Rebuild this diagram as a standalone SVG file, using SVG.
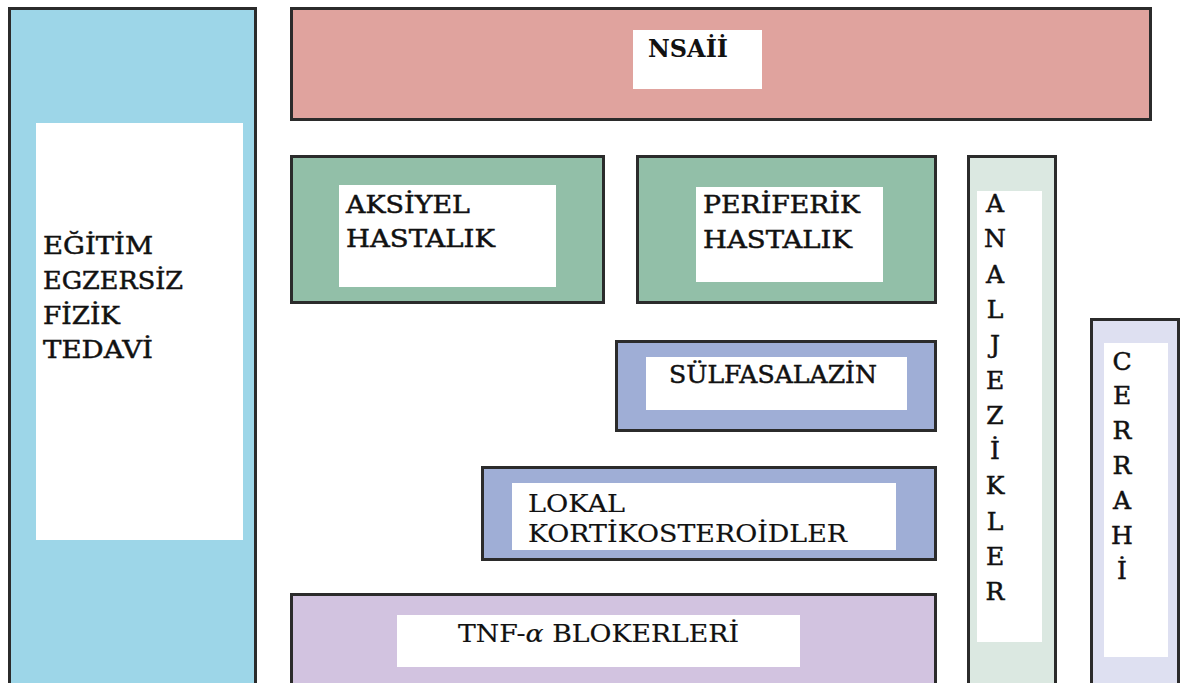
<svg xmlns="http://www.w3.org/2000/svg" width="1182" height="683" viewBox="0 0 1182 683">
<style>
.box{stroke:#2b2b2b;stroke-width:3}
.in{fill:#ffffff}
.t{font-family:"DejaVu Serif","Liberation Serif",serif;font-size:25px;fill:#111;stroke:#111;stroke-width:0.5}
.b{font-weight:bold;stroke-width:0}
.r{stroke-width:0.2}
.v{font-family:"DejaVu Serif","Liberation Serif",serif;font-size:25px;fill:#111;stroke:#111;stroke-width:0.5;text-anchor:middle}
</style>
<rect width="1182" height="683" fill="#ffffff"/>
<g id="egitim">
<rect class="box" x="9.5" y="8.5" width="246" height="690" fill="#9DD6E8"/>
<rect class="in" x="36" y="123" width="207" height="417"/>
<text class="t" x="43" y="254" textLength="110" lengthAdjust="spacingAndGlyphs">EĞİTİM</text>
<text class="t" x="43" y="289" textLength="140" lengthAdjust="spacingAndGlyphs">EGZERSİZ</text>
<text class="t" x="43" y="324" textLength="77" lengthAdjust="spacingAndGlyphs">FİZİK</text>
<text class="t" x="43" y="358" textLength="110" lengthAdjust="spacingAndGlyphs">TEDAVİ</text>
</g>
<g id="nsaii">
<rect class="box" x="291.5" y="8.5" width="859" height="111" fill="#E0A39E"/>
<rect class="in" x="633" y="30" width="129" height="59"/>
<text class="t b" x="648" y="57" textLength="80" lengthAdjust="spacingAndGlyphs">NSAİİ</text>
</g>
<g id="aksiyel">
<rect class="box" x="291.5" y="156.5" width="312" height="146" fill="#92BFA8"/>
<rect class="in" x="339" y="185" width="217" height="102"/>
<text class="t" x="346" y="213" textLength="124" lengthAdjust="spacingAndGlyphs">AKSİYEL</text>
<text class="t" x="346" y="247" textLength="149" lengthAdjust="spacingAndGlyphs">HASTALIK</text>
</g>
<g id="periferik">
<rect class="box" x="637.5" y="156.5" width="298" height="146" fill="#92BFA8"/>
<rect class="in" x="696" y="187" width="187" height="95"/>
<text class="t" x="703" y="213" textLength="157" lengthAdjust="spacingAndGlyphs">PERİFERİK</text>
<text class="t" x="703" y="248" textLength="149" lengthAdjust="spacingAndGlyphs">HASTALIK</text>
</g>
<g id="analjezikler">
<rect class="box" x="968.5" y="156.5" width="87" height="540" fill="#DBE8E1"/>
<rect class="in" x="977" y="191" width="65" height="451"/>
<text class="v" x="995" y="212">A</text>
<text class="v" x="995" y="247">N</text>
<text class="v" x="995" y="283">A</text>
<text class="v" x="995" y="318">L</text>
<text class="v" x="995" y="353">J</text>
<text class="v" x="995" y="389">E</text>
<text class="v" x="995" y="424">Z</text>
<text class="v" x="995" y="459">İ</text>
<text class="v" x="995" y="494">K</text>
<text class="v" x="995" y="530">L</text>
<text class="v" x="995" y="565">E</text>
<text class="v" x="995" y="600">R</text>
</g>
<g id="cerrahi">
<rect class="box" x="1091.5" y="319.5" width="87" height="380" fill="#DEE0F1"/>
<rect class="in" x="1104" y="343" width="64" height="314"/>
<text class="v" x="1122" y="370">C</text>
<text class="v" x="1122" y="404">E</text>
<text class="v" x="1122" y="439">R</text>
<text class="v" x="1122" y="474">R</text>
<text class="v" x="1122" y="509">A</text>
<text class="v" x="1122" y="544">H</text>
<text class="v" x="1122" y="579">İ</text>
</g>
<g id="sulfasalazin">
<rect class="box" x="616.5" y="341.5" width="319" height="89" fill="#9FAED6"/>
<rect class="in" x="646" y="357" width="261" height="53"/>
<text class="t" x="669" y="383" textLength="208" lengthAdjust="spacingAndGlyphs">SÜLFASALAZİN</text>
</g>
<g id="lokal">
<rect class="box" x="482.5" y="467.5" width="453" height="92" fill="#9FAED6"/>
<rect class="in" x="512" y="483" width="384" height="67"/>
<text class="t r" x="528" y="512" textLength="97" lengthAdjust="spacingAndGlyphs">LOKAL</text>
<text class="t r" x="528" y="542" textLength="319" lengthAdjust="spacingAndGlyphs">KORTİKOSTEROİDLER</text>
</g>
<g id="tnf">
<rect class="box" x="291.5" y="594.5" width="644" height="100" fill="#D2C3E0"/>
<rect class="in" x="397" y="615" width="403" height="52"/>
<text class="t r" x="458" y="642" textLength="281" lengthAdjust="spacingAndGlyphs">TNF-<tspan font-style="italic">α</tspan> BLOKERLERİ</text>
</g>
</svg>
